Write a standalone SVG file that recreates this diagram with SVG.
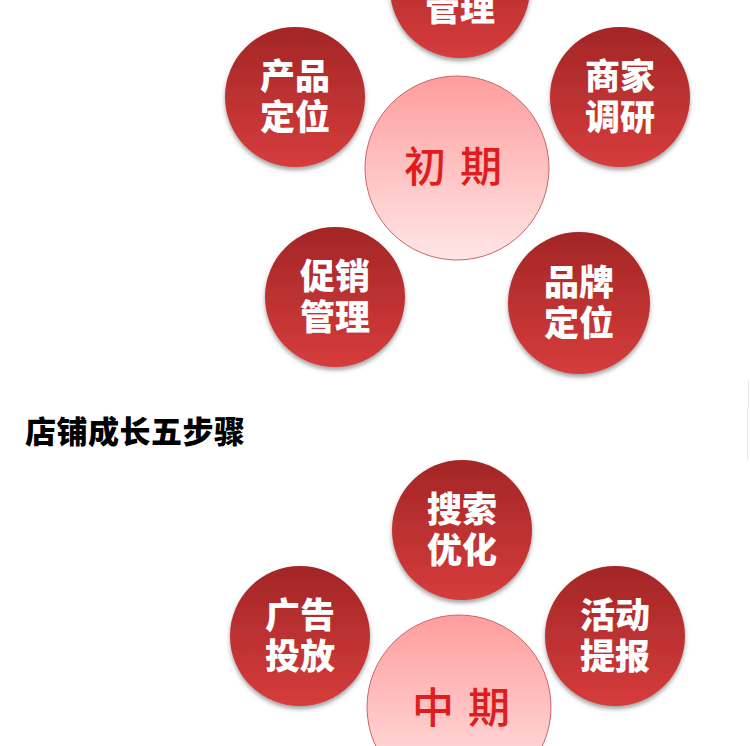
<svg xmlns="http://www.w3.org/2000/svg" width="750" height="746" viewBox="0 0 750 746">
<defs>
<linearGradient id="red" x1="0" y1="0" x2="0" y2="1">
<stop offset="0" stop-color="#a32626"/>
<stop offset="1" stop-color="#d63c3c"/>
</linearGradient>
<linearGradient id="pink" x1="0" y1="0" x2="0" y2="1">
<stop offset="0" stop-color="#ff9d9d"/>
<stop offset="1" stop-color="#ffe6e6"/>
</linearGradient>
<filter id="sh" x="-20%" y="-20%" width="140%" height="150%">
<feDropShadow dx="0" dy="3" stdDeviation="2" flood-color="#555" flood-opacity="0.55"/>
</filter>
<style>
.r{fill:url(#red);filter:url(#sh)}
.p{fill:url(#pink);stroke:#c66;stroke-width:1}
.w{fill:#fff;font-family:"Noto Sans CJK SC",sans-serif;font-weight:900;font-size:35px;text-anchor:middle}
.k{fill:#e01c1c;font-family:"Noto Sans CJK SC",sans-serif;font-weight:500;font-size:42px;text-anchor:middle;letter-spacing:14px}
.t{fill:#000;font-family:"Noto Sans CJK SC",sans-serif;font-weight:900;font-size:31px;letter-spacing:0.5px}
</style>
</defs>
<rect width="750" height="746" fill="#fff"/>
<line x1="748.5" y1="380" x2="748.5" y2="408" stroke="#e6e6e6" stroke-width="1"/>
<line x1="747.5" y1="408" x2="747.5" y2="460" stroke="#e6e6e6" stroke-width="1"/>
<g id="connectors"/>
<g id="n-guanli-top"><circle class="r" cx="460" cy="-12" r="70"/><text class="w" x="460" y="21">管理</text></g>
<g id="n-chanpin"><circle class="r" cx="295" cy="97" r="70"/><text class="w" x="295" y="89">产品<tspan x="295" dy="41">定位</tspan></text></g>
<g id="n-shangjia"><circle class="r" cx="620" cy="97" r="70"/><text class="w" x="620" y="89">商家<tspan x="620" dy="41">调研</tspan></text></g>
<g id="n-chuqi"><circle class="p" cx="457" cy="168" r="92"/><text class="k" x="460" y="182">初期</text></g>
<g id="n-cuxiao"><circle class="r" cx="335" cy="297" r="70"/><text class="w" x="335" y="289">促销<tspan x="335" dy="41">管理</tspan></text></g>
<g id="n-pinpai"><circle class="r" cx="579" cy="303" r="71"/><text class="w" x="579" y="295">品牌<tspan x="579" dy="41">定位</tspan></text></g>
<text class="t" x="25" y="443">店铺成长五步骤</text>
<g id="n-sousuo"><circle class="r" cx="462" cy="530" r="70"/><text class="w" x="462" y="522">搜索<tspan x="462" dy="41">优化</tspan></text></g>
<g id="n-guanggao"><circle class="r" cx="300" cy="636" r="70"/><text class="w" x="300" y="628">广告<tspan x="300" dy="41">投放</tspan></text></g>
<g id="n-huodong"><circle class="r" cx="615" cy="636" r="70"/><text class="w" x="615" y="628">活动<tspan x="615" dy="41">提报</tspan></text></g>
<g id="n-zhongqi"><circle class="p" cx="459" cy="707" r="92"/><text class="k" x="468" y="723">中期</text></g>
</svg>
